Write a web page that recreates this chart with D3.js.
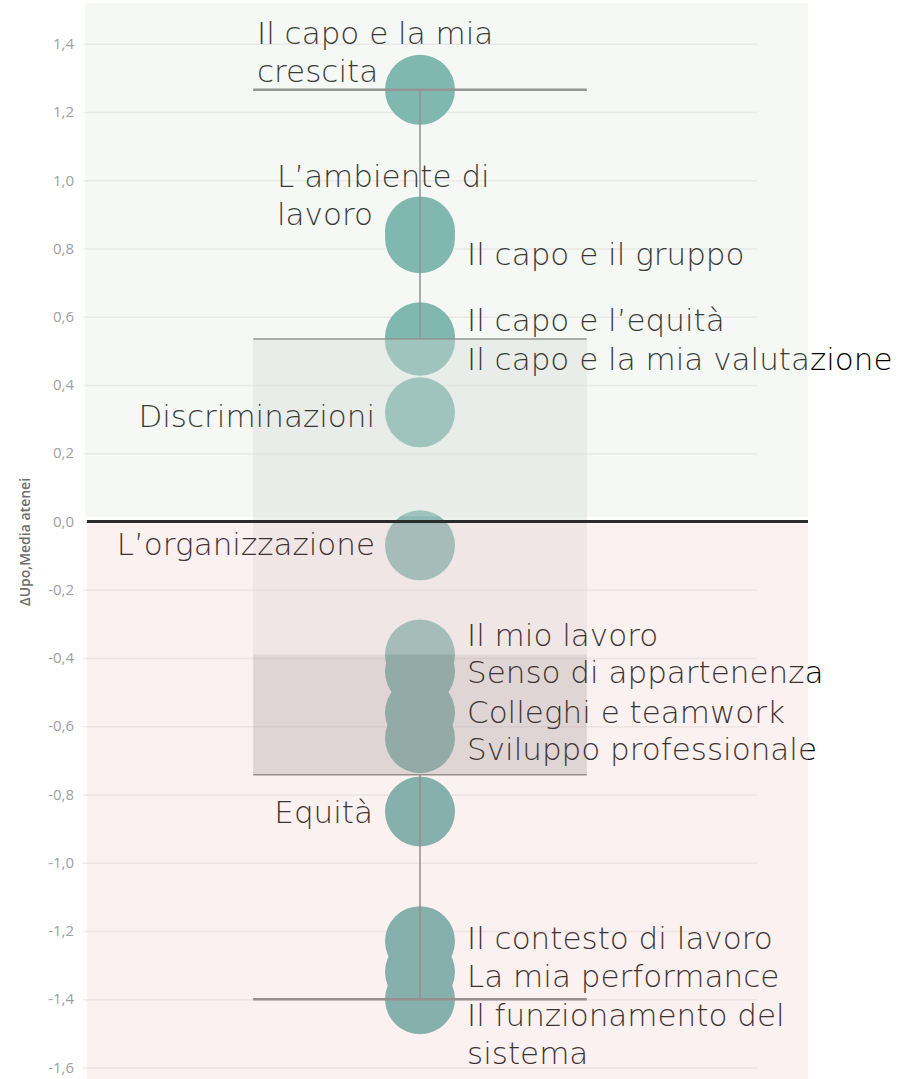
<!DOCTYPE html>
<html>
<head>
<meta charset="utf-8">
<script src="https://cdn.jsdelivr.net/npm/d3@7"></script>
<style>
  html, body { margin: 0; padding: 0; background: #fff; }
  svg { display: block; }
  .tick-label { font-family: "Open Sans", sans-serif; font-size: 15px; fill: #a0a0a0; }
  .axis-title { font-family: "Open Sans", sans-serif; font-size: 14px; font-weight: 600; fill: #6e6e6e; }
  .tema { font-family: "DejaVu Sans", sans-serif; font-size: 31px; font-weight: 300; fill: #000; }
</style>
</head>
<body>
<svg width="902" height="1079"></svg>
<script>
// Themes and their gap vs. the average of the universities
const temi = [
    "Il capo e la mia crescita", "L’ambiente di lavoro", "Il capo e il gruppo",
    "Il capo e l’equità", "Il capo e la mia valutazione", "Discriminazioni",
    "L’organizzazione", "Il mio lavoro", "Senso di appartenenza",
    "Colleghi e teamwork", "Sviluppo professionale", "Equità",
    "Il contesto di lavoro", "La mia performance", "Il funzionamento del sistema"
];
const delta = [1.265, 0.85, 0.83, 0.54, 0.53, 0.32, -0.07, -0.39, -0.44, -0.56, -0.635, -0.85, -1.23, -1.32, -1.40];

// label text split in lines
const righe = [
    ["Il capo e la mia", "crescita"], ["L’ambiente di", "lavoro"], ["Il capo e il gruppo"],
    ["Il capo e l’equità"], ["Il capo e la mia valutazione"], ["Discriminazioni"],
    ["L’organizzazione"], ["Il mio lavoro"], ["Senso di appartenenza"],
    ["Colleghi e teamwork"], ["Sviluppo professionale"], ["Equità"],
    ["Il contesto di lavoro"], ["La mia performance"], ["Il funzionamento del", "sistema"]
];

const yTicks = [1.4, 1.2, 1.0, 0.8, 0.6, 0.4, 0.2, 0, -0.2, -0.4, -0.6, -0.8, -1.0, -1.2, -1.4, -1.6];
const asse = "ΔUpo,Media atenei";

// label placement: x, anchor, baseline offset from circle centre
const labelPos = [
    { x: 257, a: "start", dy: -46 }, { x: 277, a: "start", dy: -44 }, { x: 467, a: "start", dy: 27 },
    { x: 467, a: "start", dy: -6 },  { x: 467, a: "start", dy: 29 },  { x: 375, a: "end", dy: 15 },
    { x: 375, a: "end", dy: 10 },    { x: 467, a: "start", dy: -9 },  { x: 467, a: "start", dy: 11 },
    { x: 467, a: "start", dy: 10 },  { x: 467, a: "start", dy: 22 },  { x: 373, a: "end", dy: 11 },
    { x: 467, a: "start", dy: 8 },   { x: 467, a: "start", dy: 15 },  { x: 467, a: "start", dy: 27 }
];

const svg = d3.select("svg");
const pane = { left: 83, right: 757 };
const lineH = 38;

const y = d3.scaleLinear().domain([-1.6, 1.4]).range([1067.4, 43.8]);
const x = d3.scaleBand().domain(["Upo"]).range([pane.left, pane.right]);
const cx = x("Upo") + x.bandwidth() / 2;
const boxW = x.bandwidth() * 0.495;

const it = d3.formatLocale({ decimal: ",", thousands: ".", grouping: [3], currency: ["€", ""], minus: "-" });
const fmt = it.format(".1f");

// Gridlines
svg.append("g")
    .attr("transform", `translate(${pane.left},0)`)
    .call(d3.axisLeft(y).tickValues(yTicks).tickSize(-(pane.right - pane.left)).tickFormat(""))
    .call(g => g.select(".domain").remove())
    .call(g => g.selectAll("line").attr("stroke", "#ececec").attr("stroke-width", 1.5));

// Tick labels
svg.append("g").selectAll("text")
    .data(yTicks)
    .join("text")
    .attr("class", "tick-label")
    .attr("x", 74)
    .attr("y", d => y(d))
    .attr("dy", "0.35em")
    .attr("text-anchor", "end")
    .text(d => fmt(d));

// Axis title
svg.append("text")
    .attr("class", "axis-title")
    .attr("transform", `translate(30, ${y(-0.06)}) rotate(-90)`)
    .attr("text-anchor", "middle")
    .text(asse);

// Box stats
const sorted = delta.slice().sort(d3.ascending);
const q1 = d3.quantile(sorted, 0.25);
const med = d3.quantile(sorted, 0.5);
const q3 = d3.quantile(sorted, 0.75);
const lo = d3.min(delta);
const hi = d3.max(delta);

// Circles
svg.append("g").selectAll("circle")
    .data(delta)
    .join("circle")
    .attr("cx", cx)
    .attr("cy", d => y(d))
    .attr("r", 35)
    .attr("fill", "#63a9a3");

// Box
svg.append("rect")
    .attr("x", cx - boxW / 2).attr("width", boxW)
    .attr("y", y(q3)).attr("height", y(med) - y(q3))
    .attr("fill", "rgb(212,214,214)").attr("fill-opacity", 0.37);
svg.append("rect")
    .attr("x", cx - boxW / 2).attr("width", boxW)
    .attr("y", y(med)).attr("height", y(q1) - y(med))
    .attr("fill", "rgb(150,148,150)").attr("fill-opacity", 0.35);

// Whiskers
svg.append("line")
    .attr("x1", cx).attr("x2", cx).attr("y1", y(hi)).attr("y2", y(q3))
    .attr("stroke", "#7a7a7a").attr("stroke-width", 1.5);
svg.append("line")
    .attr("x1", cx).attr("x2", cx).attr("y1", y(q1)).attr("y2", y(lo))
    .attr("stroke", "#7a7a7a").attr("stroke-width", 1.5);

svg.append("g").selectAll("line")
    .data([hi, q3, q1, lo])
    .join("line")
    .attr("x1", cx - boxW / 2).attr("x2", cx + boxW / 2)
    .attr("y1", d => y(d)).attr("y2", d => y(d))
    .attr("stroke", "#7c7c7c")
    .attr("stroke-width", (d, i) => (i === 0 || i === 3) ? 2.5 : 1.5);

// Labels
const lab = svg.append("g").selectAll("text")
    .data(temi)
    .join("text")
    .attr("class", "tema")
    .attr("text-anchor", (d, i) => labelPos[i].a);

lab.each(function (d, i) {
    const t = d3.select(this);
    righe[i].forEach((r, k) => {
        t.append("tspan")
            .attr("x", labelPos[i].x)
            .attr("y", y(delta[i]) + labelPos[i].dy + k * lineH)
            .text(r);
    });
});

// Tinted overlays (positive / negative area)
svg.append("rect")
    .attr("x", 85).attr("y", 3)
    .attr("width", 808 - 85).attr("height", y(0) - 5 - 3)
    .attr("fill", "rgb(217,227,211)").attr("fill-opacity", 0.25);
svg.append("rect")
    .attr("x", 87).attr("y", y(0) + 2)
    .attr("width", 808 - 87).attr("height", 1079 - y(0) - 2)
    .attr("fill", "rgb(239,199,195)").attr("fill-opacity", 0.25);

// Zero line
svg.append("line")
    .attr("x1", 87).attr("x2", 808)
    .attr("y1", y(0)).attr("y2", y(0))
    .attr("stroke", "#2b2b2b").attr("stroke-width", 3);
</script>
</body>
</html>
